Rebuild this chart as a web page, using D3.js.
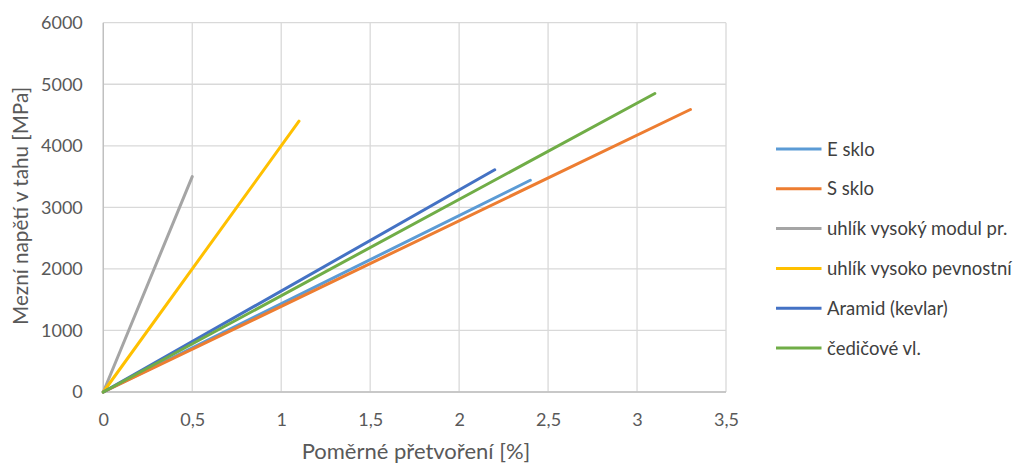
<!DOCTYPE html>
<html><head><meta charset="utf-8">
<script src="https://cdn.jsdelivr.net/npm/d3@7"></script>
<style>body{margin:0;background:#fff}svg{display:block}text{font-family:Lato,"Open Sans",sans-serif}</style>
</head><body>
<svg id="c" width="1021" height="463"></svg>
<script>
const seriesNames = ["E sklo","S sklo","uhlík vysoký modul pr.","uhlík vysoko pevnostní","Aramid (kevlar)","čedičové vl."];
const seriesColors = ["#5B9BD5","#ED7D31","#A5A5A5","#FFC000","#4472C4","#70AD47"];
const strainValues = [[0,2.4],[0,3.3],[0,0.5],[0,1.1],[0,2.2],[0,3.1]];
const stressValues = [[0,3440],[0,4590],[0,3500],[0,4400],[0,3610],[0,4850]];
const xTicks = [0,0.5,1,1.5,2,2.5,3,3.5];
const yTicks = [0,1000,2000,3000,4000,5000,6000];
const xTitle = "Poměrné přetvoření [%]";
const yTitle = "Mezní napětí v tahu [MPa]";

const svg = d3.select("#c");
const L=103.3, R=726, T=22.7, B=392;
const x = d3.scaleLinear().domain([0,3.5]).range([L,R]);
const y = d3.scaleLinear().domain([0,6000]).range([B,T]);
const fmt = d => String(d).replace(".",",");

// grid
svg.append("g").selectAll("line").data(xTicks).join("line")
  .attr("x1",d=>x(d)).attr("x2",d=>x(d)).attr("y1",T).attr("y2",B)
  .attr("stroke","#d9d9d9").attr("stroke-width",1.3);
svg.append("g").selectAll("line").data(yTicks).join("line")
  .attr("x1",L).attr("x2",R).attr("y1",d=>y(d)).attr("y2",d=>y(d))
  .attr("stroke","#d9d9d9").attr("stroke-width",1.3);
// axes lines
svg.append("line").attr("x1",L).attr("x2",L).attr("y1",T).attr("y2",B).attr("stroke","#bfbfbf").attr("stroke-width",1.3);
svg.append("line").attr("x1",L).attr("x2",R).attr("y1",B).attr("y2",B).attr("stroke","#bfbfbf").attr("stroke-width",1.3);

// axes labels via d3 axes
const ax = svg.append("g").attr("transform",`translate(0,${B})`)
  .call(d3.axisBottom(x).tickValues(xTicks).tickFormat(fmt).tickSize(0).tickPadding(21));
ax.select(".domain").remove();
ax.selectAll("text").attr("font-size",18).attr("fill","#595959").attr("font-family","Lato");
const ay = svg.append("g").attr("transform",`translate(${L},0)`)
  .call(d3.axisLeft(y).tickValues(yTicks).tickFormat(d3.format("d")).tickSize(0).tickPadding(20.5));
ay.select(".domain").remove();
ay.selectAll("text").attr("font-size",18).attr("fill","#595959").attr("font-family","Lato");

// series
const line = d3.line().x(d=>x(d[0])).y(d=>y(d[1]));
seriesNames.forEach((n,i)=>{
  const pts = strainValues[i].map((v,j)=>[v,stressValues[i][j]]);
  svg.append("path").datum(pts).attr("d",line).attr("fill","none")
    .attr("stroke",seriesColors[i]).attr("stroke-width",3).attr("stroke-linecap","round");
});

// titles
svg.append("text").attr("x",416).attr("y",459).attr("text-anchor","middle")
  .attr("font-size",22).attr("fill","#595959").text(xTitle);
svg.append("text").attr("transform",`translate(28,206) rotate(-90)`).attr("text-anchor","middle")
  .attr("font-size",20.7).attr("fill","#595959").text(yTitle);

// legend
const lg = svg.append("g");
seriesNames.forEach((n,i)=>{
  const yy = 149 + i*39.8;
  lg.append("line").attr("x1",776).attr("x2",821.5).attr("y1",yy).attr("y2",yy)
    .attr("stroke",seriesColors[i]).attr("stroke-width",3);
  lg.append("text").attr("x",827).attr("y",yy+6.5).attr("font-size",18.5).attr("fill","#404040").text(n);
});
</script>
</body></html>
